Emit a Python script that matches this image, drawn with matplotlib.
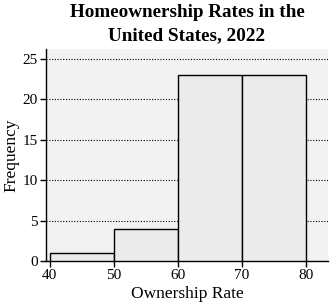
import matplotlib
matplotlib.use("Agg")
import matplotlib.pyplot as plt

bin_edges = [40, 50, 60, 70, 80]
frequencies = [1, 4, 23, 23]
x_ticks = [40, 50, 60, 70, 80]
y_ticks = [0, 5, 10, 15, 20, 25]

plt.rcParams['font.family'] = ['Liberation Serif', 'DejaVu Serif']

fig = plt.figure(figsize=(3.33, 3.05), dpi=100)
ax = fig.add_axes([46/333, 1 - 261/305, (328-46)/333, (261-49)/305])
ax.set_facecolor('#f2f2f2')

lefts = bin_edges[:-1]
widths = [bin_edges[i+1] - bin_edges[i] for i in range(len(lefts))]
ax.bar(lefts, frequencies, width=widths, align='edge', color='#ebebeb',
       edgecolor='black', linewidth=1.0, zorder=3)

ax.set_xlim(39.4, 83.4)
ax.set_ylim(0, 26.2)
ax.set_xticks(x_ticks)
ax.set_yticks(y_ticks)
ax.yaxis.grid(True, linestyle=(0, (1, 1.5)), color='black', linewidth=0.8, zorder=1)
ax.set_axisbelow(True)
for s in ['top', 'right']:
    ax.spines[s].set_visible(False)
ax.spines['left'].set_linewidth(1.0)
ax.spines['bottom'].set_linewidth(1.0)
ax.tick_params(axis='both', labelsize=11, length=4, width=1.0, direction='out', pad=2)
ax.set_xlabel('Ownership Rate', fontsize=12.5, labelpad=3)
ax.set_ylabel('Frequency', fontsize=12.5, labelpad=2)
fig.text(187/333, 1 - 4/305, 'Homeownership Rates in the\nUnited States, 2022',
         fontsize=13.8, fontweight='bold', ha='center', va='top', linespacing=1.45)

fig.savefig('out.png', dpi=100)
